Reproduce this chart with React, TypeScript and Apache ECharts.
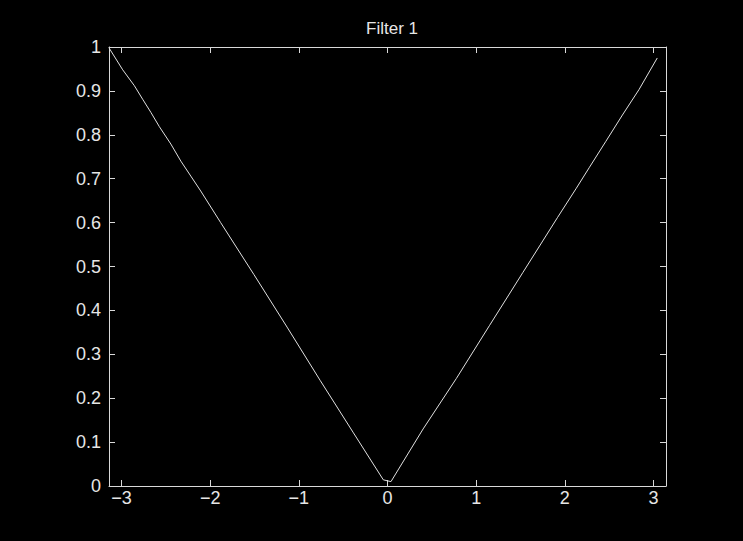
import { useEffect, useRef } from "react";
import * as echarts from "echarts";

// Filter 1 magnitude response over normalized frequency (rad/sample)
const chartTitle = "Filter 1";
const freq = [
  -3.1416, -2.987, -2.856, -2.762, -2.669, -2.575, -2.444, -2.331, -2.219, -2.107,
  -1.882, -1.508, -1.133, -0.758, -0.384, -0.047, 0.039, 0.402, 0.777, 1.152,
  1.526, 1.919, 2.126, 2.275, 2.463, 2.65, 2.837, 3.043,
];
const gain = [
  0.998, 0.948, 0.912, 0.881, 0.851, 0.819, 0.779, 0.740, 0.706, 0.672,
  0.600, 0.482, 0.362, 0.240, 0.121, 0.014, 0.010, 0.130, 0.245, 0.366,
  0.486, 0.612, 0.677, 0.725, 0.785, 0.845, 0.903, 0.975,
];
const xTickValues = [-3, -2, -1, 0, 1, 2, 3];
const xMin = -3.1416;
const xMax = 3.1416;
const yMin = 0;
const yMax = 1;
const yStep = 0.1;

export default function App() {
  const ref = useRef<HTMLDivElement>(null);

  useEffect(() => {
    if (!ref.current) return;
    const chart = echarts.init(ref.current, null, { renderer: "svg" });
    const font = "'Liberation Sans', Arial, sans-serif";
    const frame = "#d9d9d9";
    const textColor = "#e6e6e6";

    const xAxisBase = {
      type: "value" as const,
      min: xMin,
      max: xMax,
      splitLine: { show: false },
      axisLine: { show: true, onZero: false, lineStyle: { color: frame, width: 1 } },
      axisTick: {
        show: true,
        inside: true,
        length: 6,
        customValues: xTickValues,
        lineStyle: { color: frame, width: 1 },
      },
    };
    const yAxisBase = {
      type: "value" as const,
      min: yMin,
      max: yMax,
      interval: yStep,
      splitLine: { show: false },
      axisLine: { show: true, onZero: false, lineStyle: { color: frame, width: 1 } },
      axisTick: { show: true, inside: true, length: 6, lineStyle: { color: frame, width: 1 } },
    };

    chart.setOption({
      animation: false,
      backgroundColor: "#000000",
      title: {
        text: chartTitle,
        left: 387,
        top: 15,
        textAlign: "center",
        textStyle: { color: textColor, fontFamily: font, fontSize: 17, fontWeight: "normal" },
      },
      grid: { left: 109, right: 77, top: 47, bottom: 55, containLabel: false },
      xAxis: [
        {
          ...xAxisBase,
          position: "bottom",
          axisLabel: {
            show: true,
            customValues: xTickValues,
            color: textColor,
            fontFamily: font,
            fontSize: 18,
            margin: 3,
            formatter: (v: number) => (v < 0 ? "\u2212" + String(-v) : String(v)),
          },
        },
        { ...xAxisBase, position: "top", axisLabel: { show: false } },
      ],
      yAxis: [
        {
          ...yAxisBase,
          position: "left",
          axisLabel: {
            show: true,
            color: textColor,
            fontFamily: font,
            fontSize: 18,
            margin: 8,
            formatter: (v: number) => String(Math.round(v * 10) / 10),
          },
        },
        { ...yAxisBase, position: "right", axisLabel: { show: false } },
      ],
      series: [
        {
          type: "line",
          xAxisIndex: 0,
          yAxisIndex: 0,
          data: freq.map((f, i) => [f, gain[i]]),
          showSymbol: false,
          symbol: "none",
          lineStyle: { color: "#e0e0e0", width: 1 },
          silent: true,
        },
      ],
    });

    return () => chart.dispose();
  }, []);

  return (
    <div
      ref={ref}
      style={{ position: "fixed", left: 0, top: 0, width: 743, height: 541, background: "#000" }}
    />
  );
}
